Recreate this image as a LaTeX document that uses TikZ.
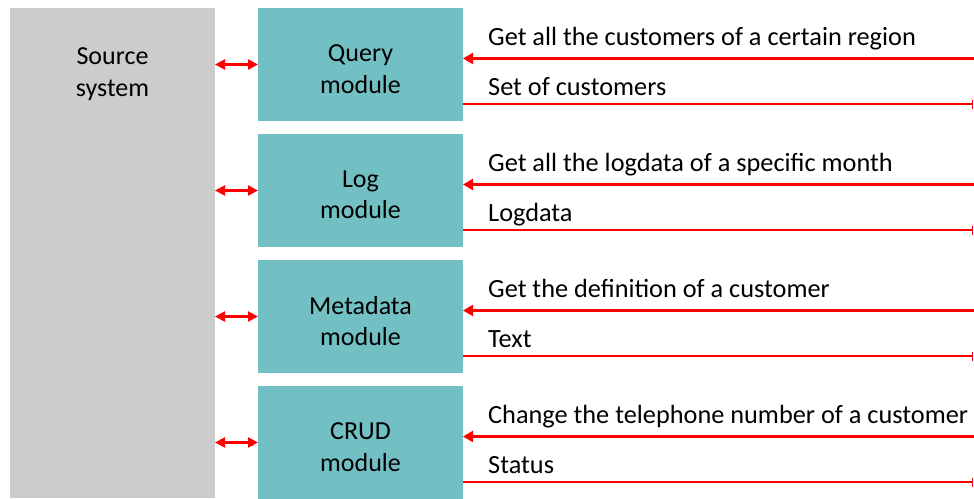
\documentclass[tikz,border=0pt]{standalone}
\usepackage{fontspec}
\setmainfont{Carlito}
\usetikzlibrary{arrows.meta}
\definecolor{srcgray}{HTML}{CCCCCC}
\definecolor{modteal}{HTML}{72BFC4}
\definecolor{linkred}{HTML}{FF0000}
\begin{document}
\begin{tikzpicture}[x=1pt,y=-1pt,
  modtext/.style={font=\fontsize{26}{31.5}\selectfont,align=center,text=black},
  lbl/.style={font=\fontsize{26.3}{30}\selectfont,anchor=base west,inner sep=0pt,text=black},
  req/.style={draw=linkred,line width=2.2pt,-{Triangle[length=10pt,width=11pt]}},
  resp/.style={draw=linkred,line width=2.2pt,-{Bar[width=9pt,line width=1.4pt]}},
  bidir/.style={draw=linkred,line width=2.2pt,{Triangle[length=10pt,width=10pt]}-{Triangle[length=10pt,width=10pt]}}]
\useasboundingbox (0,0) rectangle (974,498);
\fill[srcgray] (10,8) rectangle (215,498);
\node[modtext] (src) at (112.5,74) {Source\\system};
\foreach \name/\top/\ta/\tb/\la/\lb in {
  q/8/{Query}/{module}/{Get all the customers of a certain region}/{Set of customers},
  l/134/{Log}/{module}/{Get all the logdata of a specific month}/{Logdata},
  m/260/{Metadata}/{module}/{Get the definition of a customer}/{Text},
  c/386/{CRUD}/{module}/{Change the telephone number of a customer}/{Status}}{
  \fill[modteal] (258,\top) rectangle (463,\top+113);
  \node[modtext] (\name box) at (360.5,\top+61) {\ta\\\tb};
  \coordinate (\name L) at (258,\top+56.5);
  \coordinate (\name S) at (215,\top+56.5);
  \draw[bidir] (\name S) -- (\name L);
  \coordinate (\name inR) at (974,\top+50.5);
  \coordinate (\name inL) at (463,\top+50.5);
  \coordinate (\name outL) at (463,\top+96);
  \coordinate (\name outR) at (973,\top+96);
  \draw[req] (\name inR) -- (\name inL);
  \draw[resp] (\name outL) -- (\name outR);
  \node[lbl] (\name la) at (488,\top+37) {\la};
  \node[lbl] (\name lb) at (488,\top+87) {\lb};
}
\end{tikzpicture}
\end{document}
